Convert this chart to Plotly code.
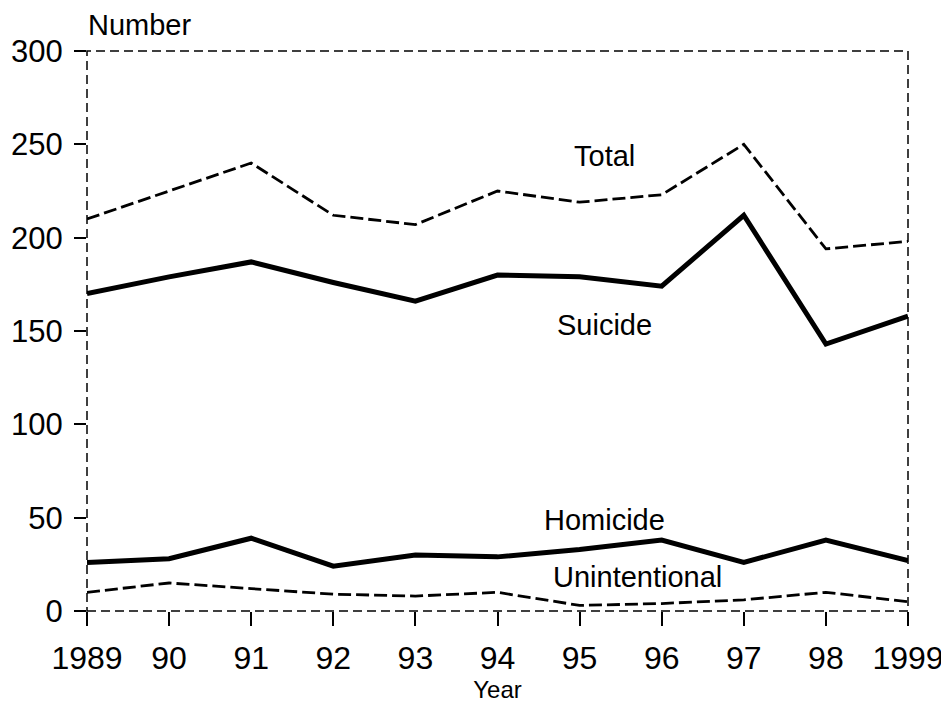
import plotly.graph_objects as go

years = [1989, 1990, 1991, 1992, 1993, 1994, 1995, 1996, 1997, 1998, 1999]
year_labels = ['1989', '90', '91', '92', '93', '94', '95', '96', '97', '98', '1999']

total = [210, 225, 240, 212, 207, 225, 219, 223, 250, 194, 198]
suicide = [170, 179, 187, 176, 166, 180, 179, 174, 212, 143, 158]
homicide = [26, 28, 39, 24, 30, 29, 33, 38, 26, 38, 27]
unintentional = [10, 15, 12, 9, 8, 10, 3, 4, 6, 10, 5]

FONT = 'Liberation Sans, Arial, sans-serif'

fig = go.Figure()

# dashed series
for vals in (total, unintentional):
    fig.add_trace(go.Scatter(
        x=years, y=vals, mode='lines',
        line=dict(color='black', width=2.8, dash='13px,5px'),
        showlegend=False
    ))

# solid, heavy series
for vals in (suicide, homicide):
    fig.add_trace(go.Scatter(
        x=years, y=vals, mode='lines',
        line=dict(color='black', width=5),
        showlegend=False
    ))

# series labels
labels = [('Total', 1995.3, 244), ('Suicide', 1995.3, 153),
          ('Homicide', 1995.3, 49), ('Unintentional', 1995.7, 18)]
for txt, x, y in labels:
    fig.add_annotation(x=x, y=y, text=txt, showarrow=False,
                       font=dict(size=29, color='black', family=FONT))

fig.add_annotation(xref='paper', yref='paper', x=0, y=1.0768,
                   xanchor='left', yanchor='top', text='Number', showarrow=False,
                   borderpad=0,
                   font=dict(size=29, color='black', family=FONT))

# dashed frame round the plot area
fig.add_shape(type='rect', xref='paper', yref='paper', x0=0, y0=0, x1=1, y1=1,
              line=dict(color='black', width=1.5, dash='9px,5px'))

# page body has an 8px margin, so the figure is a little smaller than the window
fig.update_layout(
    width=941, height=701,
    margin=dict(l=79, r=41, t=43, b=98),
    plot_bgcolor='white', paper_bgcolor='white',
    font=dict(family=FONT, color='black'),
    xaxis=dict(
        range=[1989, 1999], tickvals=years, ticktext=year_labels,
        showgrid=False, zeroline=False, showline=False,
        ticks='outside', ticklen=14, tickwidth=1.5, tickcolor='black',
        tickfont=dict(size=32), ticklabelstandoff=5, ticklabeloverflow='allow',
        automargin=False,
        title=dict(text='Year', font=dict(size=24), standoff=5)
    ),
    yaxis=dict(
        range=[0, 300], tickvals=[0, 50, 100, 150, 200, 250, 300],
        showgrid=False, zeroline=False, showline=False,
        ticks='outside', ticklen=12, tickwidth=1.5, tickcolor='black',
        tickfont=dict(size=31), ticklabelstandoff=5, ticklabeloverflow='allow',
        automargin=False
    )
)

fig.write_html("out.html")
